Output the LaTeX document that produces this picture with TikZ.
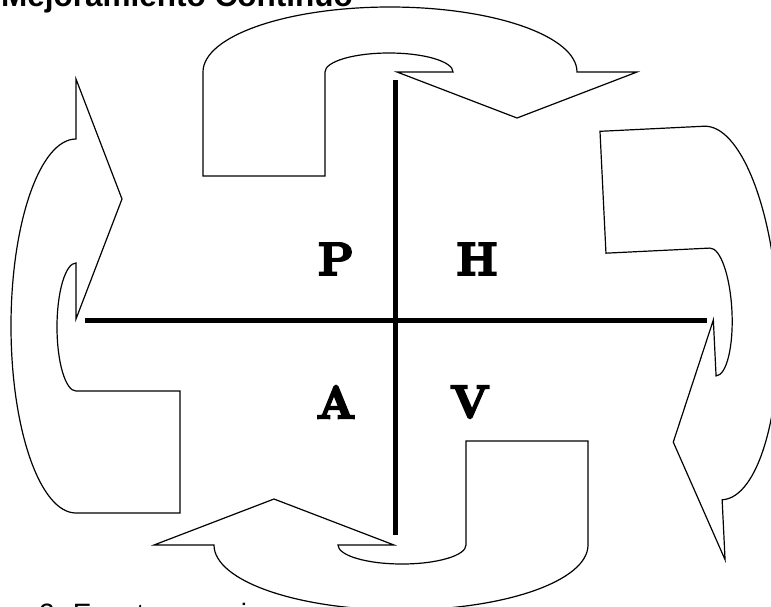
\documentclass[tikz,border=0pt]{standalone}
\usepackage{fontspec}
\newfontfamily\arial{Liberation Sans}
\newfontfamily\gruesa[FakeBold=5]{Latin Modern Roman}
\usepackage{tikz}
\usetikzlibrary{calc}

\begin{document}
\begin{tikzpicture}[x=1pt, y=-1pt, contorno/.style={draw=black, line width=1.2pt, line join=miter}, eje/.style={line width=5pt}, letra/.style={inner sep=0pt, font=\gruesa\bfseries\fontsize{46}{46}\selectfont}]
        % Fix the size of the page
        \useasboundingbox (0,0) rectangle (771,606);

        % Define one curved arrow (the top one, centred at the origin)
        \def\flecha{%
          \draw[contorno] (-187,104) -- (-187,0)
            .. controls (-187,-35.9) and (-103.3,-65) .. (0,-65)
            .. controls (103.3,-65) and (187,-35.9) .. (187,0)
            -- (247,0) -- (127,46) -- (7,0) -- (63,0)
            .. controls (63,-10.5) and (34.3,-19) .. (-1,-19)
            .. controls (-36.3,-19) and (-65,-10.5) .. (-65,0)
            -- (-65,104) -- cycle;}

        % Draw the four arrows round the cycle
        \begin{scope}[shift={(390,72)}]
          \flecha
        \end{scope}
        \begin{scope}[shift={(713,313)}, rotate=-87.2]
          \flecha
        \end{scope}
        \begin{scope}[shift={(401,545)}, rotate=180]
          \flecha
        \end{scope}
        \begin{scope}[shift={(76,326)}, rotate=90]
          \flecha
        \end{scope}

        % Draw the cross
        \coordinate (izq) at (85,320);
        \coordinate (der) at (707,320);
        \coordinate (arriba) at (395.5,80);
        \coordinate (abajo) at (395.5,535);
        \draw[eje] (izq) -- (der);
        \draw[eje] (arriba) -- (abajo);

        % Place the letters in the four quarters
        \foreach \l/\x/\y in {P/336/259, H/477/259, A/336/402, V/470/402}
        {
          \node[letra] (\l) at (\x,\y) {\l};
        }

        % Title and caption, cut by the page
        \node[anchor=base west, inner sep=0pt, font=\arial\bfseries\fontsize{31.5}{31.5}\selectfont] (titulo) at (1,6.5) {Mejoramiento Continuo};
        \node[anchor=base west, inner sep=0pt, font=\arial\fontsize{28}{28}\selectfont] (pie) at (39,623) {2. Eventos y su inverso};
      \end{tikzpicture}
\end{document}
